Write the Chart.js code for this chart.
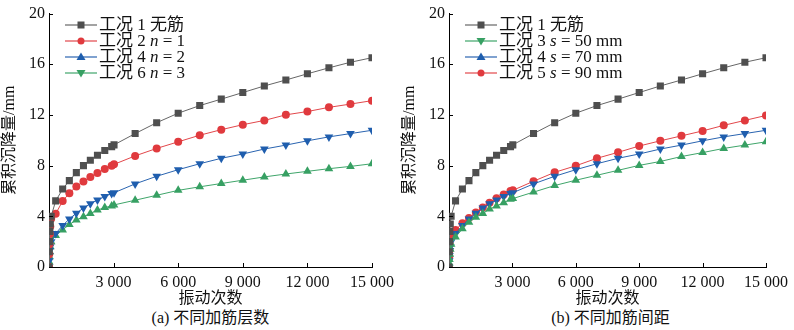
<!DOCTYPE html>
<html>
<head>
<meta charset="utf-8">
<script src="https://cdn.jsdelivr.net/npm/chart.js@4.4.0/dist/chart.umd.min.js"></script>
<style>
  body { margin: 0; background: #fff; width: 794px; height: 330px; overflow: hidden; position: relative;
         font-family: "Liberation Serif", "Noto Sans CJK SC", serif; color: #111; }
  .panel { position: absolute; top: 0; height: 308px; }
  .caption { position: absolute; top: 308px; height: 20px; line-height: 20px; font-size: 16px; text-align: center; }
  .legend { position: absolute; font-size: 17px; line-height: 16px; }
  .legend div { height: 16px; white-space: nowrap; }
  .legend svg { vertical-align: top; margin-right: 2px; }
</style>
</head>
<body>
<div class="panel" style="left:0;width:400px"><canvas id="chartA"></canvas></div>
<div class="panel" style="left:400px;width:394px"><canvas id="chartB"></canvas></div>
<div class="caption" style="left:49px;width:323px">(a) 不同加筋层数</div>
<div class="caption" style="left:449px;width:323px">(b) 不同加筋间距</div>
<div class="legend" id="legendA" style="left:65px;top:17px"></div>
<div class="legend" id="legendB" style="left:465px;top:17px"></div>
<script>
// vibration counts (shared by all series)
const cycles = [0, 10, 20, 40, 60, 100, 310, 635, 945, 1270, 1600, 1920, 2250, 2590, 2910, 3020,
                4000, 5000, 6000, 7000, 8000, 9000, 10000, 11000, 12000, 13000, 14000, 15000];

// cumulative settlement, mm
const case1 = [0, 1.2, 2.0, 2.8, 3.4, 4.0, 5.22, 6.15, 6.82, 7.45, 8.0, 8.43, 8.82, 9.19, 9.5, 9.64,
               10.53, 11.39, 12.14, 12.74, 13.25, 13.77, 14.29, 14.76, 15.25, 15.72, 16.16, 16.52];
const case2 = [0, 1.0, 1.8, 2.6, 3.2, 3.8, 4.2, 5.21, 5.83, 6.36, 6.75, 7.1, 7.42, 7.73, 7.99, 8.1,
               8.77, 9.36, 9.88, 10.4, 10.84, 11.23, 11.57, 12.01, 12.27, 12.6, 12.86, 13.13];
const case3 = [0, 0.3, 0.6, 1.0, 1.4, 1.8, 2.36, 3.01, 3.53, 3.92, 4.23, 4.57, 4.82, 5.08, 5.35, 5.4,
               5.91, 6.43, 6.85, 7.24, 7.63, 8.02, 8.33, 8.72, 9.03, 9.36, 9.62, 9.88];
const case4 = [0, 0.5, 0.9, 1.3, 1.6, 2.0, 2.65, 3.28, 3.79, 4.25, 4.65, 5.0, 5.28, 5.56, 5.8, 5.86,
               6.56, 7.16, 7.68, 8.15, 8.58, 8.92, 9.31, 9.62, 9.96, 10.27, 10.53, 10.79];
const case5 = [0, 0.8, 1.3, 1.8, 2.2, 2.5, 2.93, 3.45, 3.87, 4.3, 4.69, 5.08, 5.42, 5.73, 5.99, 6.05,
               6.77, 7.47, 7.99, 8.58, 9.05, 9.55, 9.96, 10.35, 10.74, 11.18, 11.57, 11.96];
const case6 = [0, 0.4, 0.8, 1.2, 1.6, 2.0, 2.49, 2.93, 3.35, 3.71, 3.97, 4.23, 4.49, 4.69, 4.82, 4.9,
               5.27, 5.66, 6.05, 6.33, 6.59, 6.85, 7.11, 7.34, 7.55, 7.76, 7.94, 8.15];

const xTicks = [0, 3000, 6000, 9000, 12000, 15000];
const xTickLabels = ['', '3 000', '6 000', '9 000', '12 000', '15 000'];
const yTicks = [0, 4, 8, 12, 16, 20];

const legendA = ['工况 1 无筋', '工况 2 <i>n</i> = 1', '工况 4 <i>n</i> = 2', '工况 6 <i>n</i> = 3'];
const legendB = ['工况 1 无筋', '工况 3 <i>s</i> = 50 mm', '工况 4 <i>s</i> = 70 mm', '工况 5 <i>s</i> = 90 mm'];

const FONT = '"Liberation Serif", "Noto Sans CJK SC", serif';

const styles = {
  gray:  { line: '#666666', fill: '#4f4f4f', point: 'rect', radius: 5, rot: 0 },
  red:   { line: '#e2474b', fill: '#e03a3e', point: 'circle', radius: 4, rot: 0 },
  blue:  { line: '#2a64b0', fill: '#1f5eae', point: 'triangle', radius: 5, rot: 180 },
  green: { line: '#3fa56a', fill: '#37a063', point: 'triangle', radius: 5, rot: 0 }
};

const toPoints = (vals) => cycles.map((c, i) => ({ x: c, y: vals[i] }));

const makeSet = (vals, st) => ({
  data: toPoints(vals),
  borderColor: st.line,
  backgroundColor: st.fill,
  pointBackgroundColor: st.fill,
  pointBorderColor: st.fill,
  pointBorderWidth: 0,
  pointStyle: st.point,
  pointRadius: st.radius,
  pointRotation: st.rot,
  borderWidth: 1,
  tension: 0
});

const innerTicks = {
  id: 'innerTicks',
  afterDraw(chart) {
    const { ctx, chartArea: a, scales: { x, y } } = chart;
    ctx.save();
    ctx.strokeStyle = '#000';
    ctx.lineWidth = 1;
    ctx.beginPath();
    yTicks.forEach(v => {
      const py = Math.round(y.getPixelForValue(v)) + 0.5;
      ctx.moveTo(a.left, py); ctx.lineTo(a.left + 4, py);
    });
    xTicks.slice(1).forEach(v => {
      const px = Math.round(x.getPixelForValue(v)) + 0.5;
      ctx.moveTo(px, a.bottom); ctx.lineTo(px, a.bottom - 4);
    });
    ctx.stroke();
    ctx.restore();
  }
};

function makeChart(id, datasets, rightPad) {
  return new Chart(document.getElementById(id), {
    type: 'line',
    data: { datasets },
    plugins: [innerTicks],
    options: {
      responsive: true,
      maintainAspectRatio: false,
      animation: false,
      layout: { padding: { top: 10, right: rightPad, left: 0, bottom: 0 } },
      plugins: { legend: { display: false }, tooltip: { enabled: false } },
      scales: {
        x: {
          type: 'linear', min: 0, max: 15000,
          afterBuildTicks: s => { s.ticks = xTicks.map(v => ({ value: v })); },
          afterFit: s => { s.height = 41; },
          ticks: {
            color: '#111', padding: 6, maxRotation: 0, autoSkip: false,
            font: { family: FONT, size: 16 },
            callback: v => xTickLabels[xTicks.indexOf(v)]
          },
          grid: { drawOnChartArea: false, drawTicks: false },
          border: { color: '#000', width: 1 },
          title: { display: true, text: '振动次数', color: '#111', padding: 0,
                   font: { family: FONT, size: 16 } }
        },
        y: {
          min: 0, max: 20,
          afterBuildTicks: s => { s.ticks = yTicks.map(v => ({ value: v })); },
          afterFit: s => { s.width = 49; },
          ticks: { color: '#111', padding: 4, font: { family: FONT, size: 16 } },
          grid: { drawOnChartArea: false, drawTicks: false },
          border: { color: '#000', width: 1 },
          title: { display: true, text: '累积沉降量/mm', color: '#111', padding: 0,
                   font: { family: FONT, size: 16 } }
        }
      }
    }
  });
}

function symbol(st, legendRot) {
  let m = '';
  const cx = 16, cy = 8;
  if (st.point === 'rect') m = `<rect x="${cx - 3.5}" y="${cy - 3.5}" width="7" height="7" fill="${st.fill}"/>`;
  else if (st.point === 'circle') m = `<circle cx="${cx}" cy="${cy}" r="3.5" fill="${st.fill}"/>`;
  else if (legendRot === 180) m = `<polygon points="${cx - 4.5},${cy - 3} ${cx + 4.5},${cy - 3} ${cx},${cy + 4.5}" fill="${st.fill}"/>`;
  else m = `<polygon points="${cx - 4.5},${cy + 3} ${cx + 4.5},${cy + 3} ${cx},${cy - 4.5}" fill="${st.fill}"/>`;
  return `<svg width="32" height="16"><line x1="0" y1="${cy}" x2="32" y2="${cy}" stroke="${st.line}" stroke-width="1.2"/>${m}</svg>`;
}

function buildLegend(id, labels, entries) {
  document.getElementById(id).innerHTML = labels.map((t, i) =>
    `<div>${symbol(entries[i][0], entries[i][1])}${t}</div>`).join('');
}

makeChart('chartA', [
  makeSet(case1, styles.gray),
  makeSet(case2, styles.red),
  makeSet(case4, styles.blue),
  makeSet(case6, styles.green)
], 28);

makeChart('chartB', [
  makeSet(case1, styles.gray),
  makeSet(case3, styles.green),
  makeSet(case4, styles.blue),
  makeSet(case5, styles.red)
], 22);

// the legend in the source shows the triangle directions the other way round
buildLegend('legendA', legendA, [[styles.gray, 0], [styles.red, 0], [styles.blue, 0], [styles.green, 180]]);
buildLegend('legendB', legendB, [[styles.gray, 0], [styles.green, 180], [styles.blue, 0], [styles.red, 0]]);
</script>
</body>
</html>
